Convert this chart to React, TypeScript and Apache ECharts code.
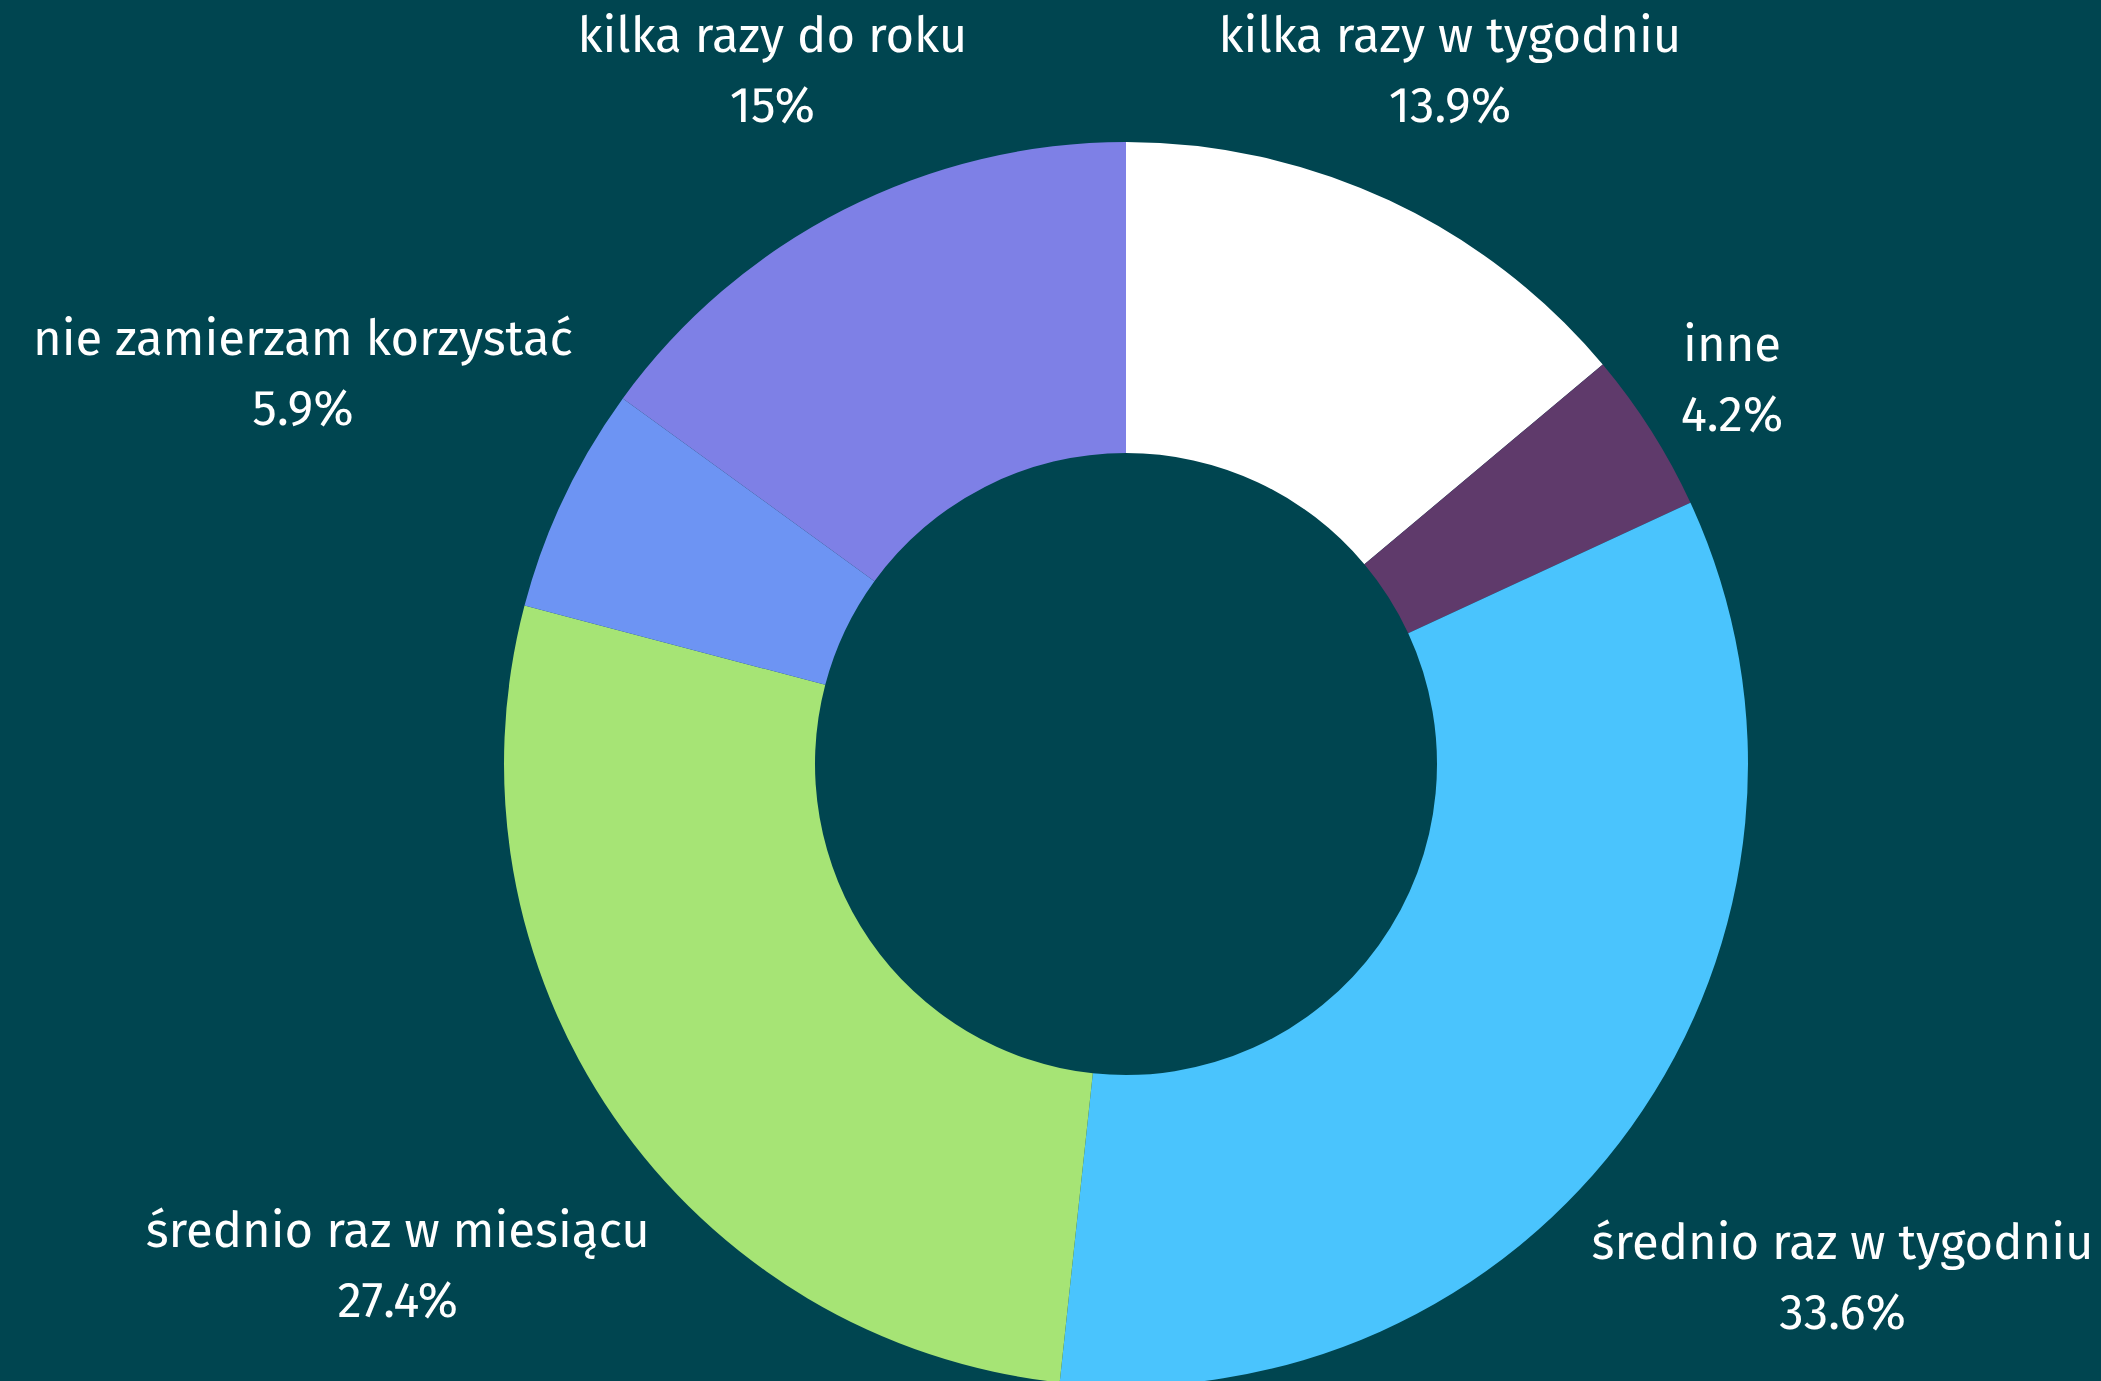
import React, { useEffect, useRef } from "react";
import * as echarts from "echarts";

const categories = [
  "kilka razy w tygodniu",
  "inne",
  "średnio raz w tygodniu",
  "średnio raz w miesiącu",
  "nie zamierzam korzystać",
  "kilka razy do roku",
];
const values = [13.9, 4.2, 33.6, 27.4, 5.9, 15];
const colors = ["#ffffff", "#5f3a6b", "#4ac4fd", "#a6e475", "#6d94f3", "#7e80e6"];

const BG = "#004550";
const CX = 1126;
const CY = 764;
const R_IN = 311;
const R_OUT = 622;
const GAP = 15;

export default function App() {
  const ref = useRef<HTMLDivElement>(null);

  useEffect(() => {
    if (!ref.current) return;
    const chart = echarts.init(ref.current, undefined, { renderer: "svg" });
    const total = values.reduce((a, b) => a + b, 0);
    const mids: number[] = [];
    let cum = 0;
    values.forEach((v) => {
      mids.push(((cum + v / 2) / total) * Math.PI * 2);
      cum += v;
    });

    chart.setOption({
      animation: false,
      backgroundColor: BG,
      series: [
        {
          type: "pie",
          center: [CX, CY],
          radius: [R_IN, R_OUT],
          startAngle: 90,
          clockwise: true,
          avoidLabelOverlap: false,
          itemStyle: { borderWidth: 0 },
          label: {
            show: true,
            position: "outside",
            color: "#ffffff",
            fontSize: 49,
            lineHeight: 70,
            fontFamily: "'Fira Sans', 'Open Sans', sans-serif",
            align: "center",
            formatter: (p: any) => {
              const pct = parseFloat(((values[p.dataIndex] / total) * 100).toPrecision(3));
              return `${p.name}\n${pct}%`;
            },
          },
          labelLine: { show: false },
          emphasis: { disabled: true },
          labelLayout: (params: any) => {
            const th = mids[params.dataIndex];
            const s = Math.sin(th);
            const c = Math.cos(th);
            const w = params.labelRect.width;
            const h = params.labelRect.height;
            let r = R_OUT + GAP + (w / 2) * Math.abs(s) + (h / 2) * Math.abs(c);
            let y = CY - r * c;
            if (y - h / 2 < 0 && c > 0) {
              r = (CY - h / 2) / c;
              y = CY - r * c;
            }
            const x = CX + r * s;
            return { x, y, align: "center", verticalAlign: "middle" };
          },
          data: categories.map((name, i) => ({
            name,
            value: values[i],
            itemStyle: { color: colors[i] },
          })),
        },
      ],
    });
    return () => chart.dispose();
  }, []);

  return (
    <div
      ref={ref}
      style={{ position: "fixed", left: 0, top: 0, width: "100vw", height: "100vh", background: BG }}
    />
  );
}
